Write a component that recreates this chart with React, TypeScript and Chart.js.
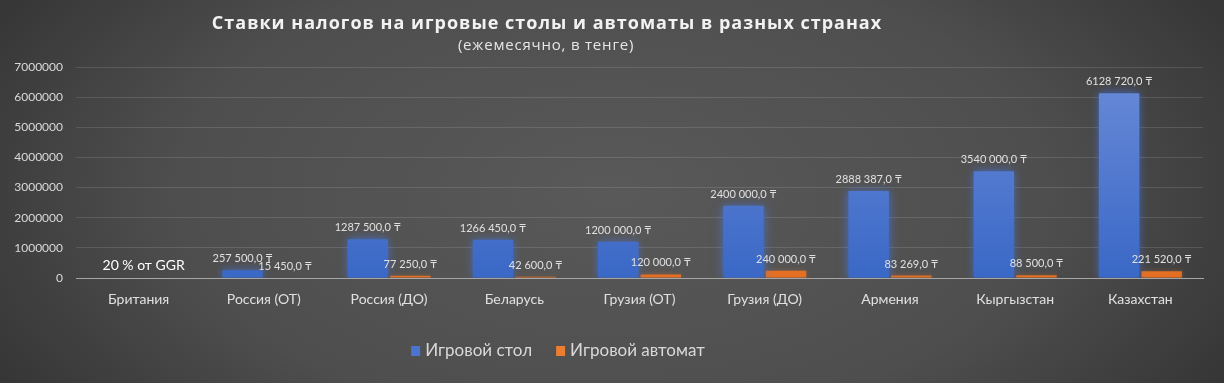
import { useEffect, useRef } from "react";
import { Chart, registerables } from "chart.js";

Chart.register(...registerables);

const categories = [
  "Британия",
  "Россия (ОТ)",
  "Россия (ДО)",
  "Беларусь",
  "Грузия (ОТ)",
  "Грузия (ДО)",
  "Армения",
  "Кыргызстан",
  "Казахстан",
];
const tableTax: (number | null)[] = [null, 257500, 1287500, 1266450, 1200000, 2400000, 2888387, 3540000, 6128720];
const slotTax: (number | null)[] = [null, 15450, 77250, 42600, 120000, 240000, 83269, 88500, 221520];
const seriesNames = ["Игровой стол", "Игровой автомат"];
const yMin = 0;
const yMax = 7000000;
const yStep = 1000000;
const titleText = "Ставки налогов на игровые столы и автоматы в разных странах";
const subtitleText = "(ежемесячно, в тенге)";
const britainNote = "20 % от GGR";
const britainIndex = 0;

const FONT = "Lato, 'DejaVu Sans', sans-serif";
const TITLE_FONT = "'Open Sans', 'DejaVu Sans', sans-serif";

function fmt(v: number): string {
  const whole = Math.floor(v);
  const hi = Math.floor(whole / 1000);
  const lo = whole % 1000;
  const loStr = hi > 0 ? String(lo).padStart(3, "0") : String(lo);
  return (hi > 0 ? hi + " " : "") + loStr + ",0 ₸";
}

export default function App() {
  const ref = useRef<HTMLCanvasElement | null>(null);

  useEffect(() => {
    if (!ref.current) return;

    const grad = (top: string, bottom: string) => (c: any) => {
      const chart = c.chart;
      const a = chart.chartArea;
      if (!a) return bottom;
      const g = chart.ctx.createLinearGradient(0, a.top, 0, a.bottom);
      g.addColorStop(0, top);
      g.addColorStop(1, bottom);
      return g;
    };

    const glowPlugin = {
      id: "glow",
      beforeDatasetDraw(chart: any, args: any) {
        const ctx = chart.ctx;
        ctx.save();
        if (args.index === 0) {
          ctx.shadowColor = "rgba(70,120,235,0.75)";
          ctx.shadowBlur = 9;
        } else {
          ctx.shadowColor = "rgba(237,125,49,0.35)";
          ctx.shadowBlur = 5;
        }
      },
      afterDatasetDraw(chart: any) {
        chart.ctx.restore();
      },
    };

    const overlayPlugin = {
      id: "overlay",
      afterDraw(chart: any) {
        const ctx = chart.ctx;
        ctx.save();
        // Title
        ctx.fillStyle = "#f2f2f2";
        ctx.textAlign = "center";
        ctx.textBaseline = "middle";
        ctx.font = "bold 18px " + TITLE_FONT;
        (ctx as any).letterSpacing = "1px";
        ctx.fillText(titleText, 547, 24);
        ctx.font = "15px " + TITLE_FONT;
        (ctx as any).letterSpacing = "0.8px";
        ctx.fillStyle = "#e6e6e6";
        ctx.fillText(subtitleText, 546, 46);
        (ctx as any).letterSpacing = "0px";

        // Data labels
        ctx.font = "11px " + FONT;
        ctx.fillStyle = "#e0e0e0";
        ctx.textBaseline = "bottom";
        chart.data.datasets.forEach((ds: any, di: number) => {
          const meta = chart.getDatasetMeta(di);
          meta.data.forEach((bar: any, i: number) => {
            const v = ds.data[i];
            if (v == null) return;
            ctx.fillText(fmt(v), bar.x, bar.y - 6);
          });
        });

        // Britain note
        const xs = chart.scales.x;
        const ys = chart.scales.y;
        ctx.font = "14px " + FONT;
        ctx.fillStyle = "#ffffff";
        ctx.textBaseline = "middle";
        ctx.fillText(britainNote, xs.getPixelForValue(britainIndex) + 5, ys.getPixelForValue(0) - 13);

        // Legend
        const colors = ["#4a74d0", "#ed7d31"];
        ctx.font = "17px " + FONT;
        ctx.textAlign = "left";
        const box = 9;
        const gap = 5;
        const itemGap = 24;
        const widths = seriesNames.map((n) => ctx.measureText(n).width);
        const total = widths.reduce((s, w) => s + box + gap + w, 0) + itemGap * (seriesNames.length - 1);
        let x = 558 - total / 2;
        const ly = 351;
        seriesNames.forEach((n, i) => {
          ctx.fillStyle = colors[i];
          ctx.fillRect(x, ly - 5, box, box + 1);
          ctx.fillStyle = "#d9d9d9";
          ctx.fillText(n, x + box + gap, ly);
          x += box + gap + widths[i] + itemGap;
        });
        ctx.restore();
      },
    };

    const chart = new Chart(ref.current, {
      type: "bar",
      data: {
        labels: categories,
        datasets: [
          {
            label: seriesNames[0],
            data: tableTax as any,
            backgroundColor: grad("#6a8bd8", "#3a68c6"),
            borderWidth: 0,
            categoryPercentage: 0.68,
            barPercentage: 0.95,
          },
          {
            label: seriesNames[1],
            data: slotTax as any,
            backgroundColor: grad("#f28a3a", "#e46f22"),
            borderWidth: 0,
            categoryPercentage: 0.68,
            barPercentage: 0.95,
          },
        ],
      },
      options: {
        animation: false,
        responsive: true,
        maintainAspectRatio: false,
        layout: { padding: { top: 67, right: 21, left: 0, bottom: 0 } },
        plugins: {
          legend: { display: false },
          title: { display: false },
          tooltip: { enabled: false },
        },
        scales: {
          x: {
            grid: { display: false },
            border: { display: true, color: "#a6a6a6", width: 1 },
            ticks: { color: "#e0e0e0", font: { family: FONT, size: 14 }, padding: 5, maxRotation: 0 },
            afterFit: (s: any) => {
              s.height = 105;
            },
          },
          y: {
            min: yMin,
            max: yMax,
            ticks: {
              stepSize: yStep,
              color: "#d9d9d9",
              font: { family: FONT, size: 12 },
              padding: 13,
              callback: (v: any) => String(v),
            },
            grid: { color: "rgba(255,255,255,0.12)", drawTicks: false },
            border: { display: false },
            afterFit: (s: any) => {
              s.width = 76;
            },
          },
        },
      },
      plugins: [glowPlugin, overlayPlugin],
    });
    return () => chart.destroy();
  }, []);

  return (
    <div
      style={{
        position: "fixed",
        left: 0,
        top: 0,
        width: 1224,
        height: 383,
        background:
          "radial-gradient(ellipse 65% 110% at 50% 50%, #595959 0%, #4e4e4e 55%, #2e2e2e 100%)",
      }}
    >
      <canvas ref={ref} />
    </div>
  );
}
